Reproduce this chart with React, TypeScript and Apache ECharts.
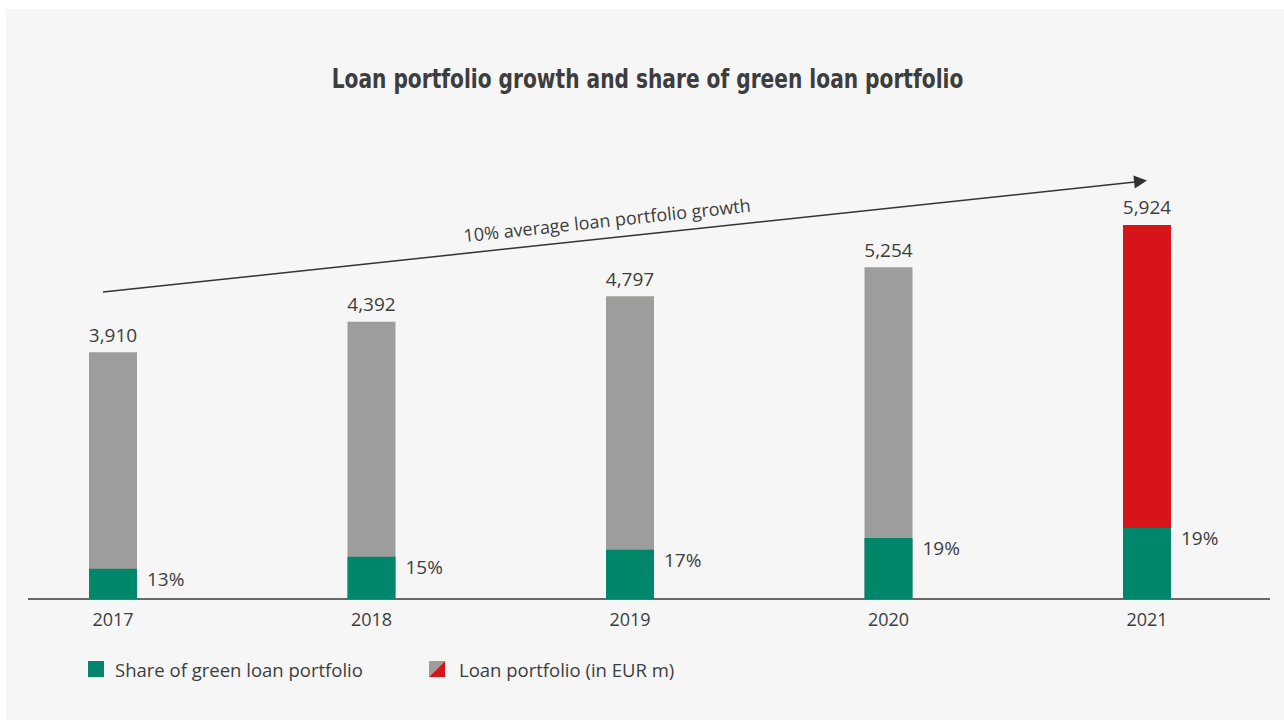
import React, { useEffect, useRef } from "react";
import * as echarts from "echarts";

const years = ["2017", "2018", "2019", "2020", "2021"];
const loanPortfolio = [3910, 4392, 4797, 5254, 5924];
const greenLoan = [478, 668, 780, 965, 1127];
const greenShare = [13, 15, 17, 19, 19];
const growthText = "10% average loan portfolio growth";
const titleText = "Loan portfolio growth and share of green loan portfolio";
const legendGreen = "Share of green loan portfolio";
const legendLoan = "Loan portfolio (in EUR m)";

const GRAY = "#9d9d9b";
const GREEN = "#00866a";
const RED = "#d71419";
const TEXT = "#3d3d3d";
const BG = "#f6f6f6";
const FONT = "'Open Sans', 'Noto Sans', sans-serif";

export default function App() {
  const ref = useRef<HTMLDivElement>(null);
  useEffect(() => {
    if (!ref.current) return;
    const chart = echarts.init(ref.current, undefined, { renderer: "svg" });
    const angle = Math.atan2(292 - 181, 1147 - 103);
    chart.setOption({
      animation: false,
      backgroundColor: BG,
      textStyle: { fontFamily: FONT },
      grid: { left: 107, width: 1034, top: 211.2, height: 378.8 },
      xAxis: {
        type: "category",
        data: years,
        boundaryGap: false,
        axisLine: { show: false },
        axisTick: { show: false },
        axisLabel: { color: TEXT, fontSize: 18, margin: 11, fontFamily: FONT },
      },
      yAxis: {
        type: "value",
        min: 0,
        max: 6000,
        show: false,
        splitLine: { show: false },
      },
      series: [
        {
          name: legendLoan,
          type: "bar",
          barWidth: 48,
          barGap: "-100%",
          data: loanPortfolio.map((v, i) => ({
            value: v,
            itemStyle: { color: i === loanPortfolio.length - 1 ? RED : GRAY },
          })),
          label: {
            show: true,
            position: "top",
            distance: 8,
            color: TEXT,
            fontSize: 19,
            fontFamily: FONT,
            formatter: (p: any) => p.value.toLocaleString("en-US"),
          },
        },
        {
          name: legendGreen,
          type: "bar",
          barWidth: 48,
          barGap: "-100%",
          itemStyle: { color: GREEN },
          data: greenLoan,
          label: {
            show: true,
            position: [58, 10],
            align: "left",
            verticalAlign: "middle",
            color: TEXT,
            fontSize: 19,
            fontFamily: FONT,
            formatter: (p: any) => greenShare[p.dataIndex] + "%",
          },
        },
      ],
      graphic: [
        {
          type: "text",
          x: 641.5,
          y: 70,
          scaleX: 0.863,
          style: {
            text: titleText,
            fill: TEXT,
            font: "bold 26px 'DejaVu Sans Condensed', 'DejaVu Sans', sans-serif",
            align: "center",
            verticalAlign: "middle",
          },
        },
        {
          type: "line",
          shape: { x1: 22, y1: 590, x2: 1264, y2: 590 },
          style: { stroke: "#3a3a3a", lineWidth: 1.5 },
        },
        {
          type: "line",
          shape: { x1: 97, y1: 283, x2: 1129, y2: 173 },
          style: { stroke: "#333", lineWidth: 1.5 },
        },
        {
          type: "polygon",
          shape: {
            points: [
              [1141, 171.5],
              [1128.8, 179.4],
              [1127.4, 166.4],
            ],
          },
          style: { fill: "#333" },
        },
        {
          type: "text",
          x: 601,
          y: 211,
          rotation: angle,
          style: {
            text: growthText,
            fill: TEXT,
            font: "18px 'Open Sans', sans-serif",
            align: "center",
            verticalAlign: "middle",
          },
        },
        {
          type: "rect",
          shape: { x: 82, y: 652, width: 16, height: 16 },
          style: { fill: GREEN },
        },
        {
          type: "text",
          x: 109,
          y: 660,
          style: {
            text: legendGreen,
            fill: TEXT,
            font: "18.5px 'Open Sans', sans-serif",
            verticalAlign: "middle",
          },
        },
        {
          type: "polygon",
          shape: { points: [[423, 652], [439, 652], [423, 668]] },
          style: { fill: GRAY },
        },
        {
          type: "polygon",
          shape: { points: [[439, 652], [439, 668], [423, 668]] },
          style: { fill: RED },
        },
        {
          type: "text",
          x: 453,
          y: 660,
          style: {
            text: legendLoan,
            fill: TEXT,
            font: "18.5px 'Open Sans', sans-serif",
            verticalAlign: "middle",
          },
        },
      ],
    });
    return () => chart.dispose();
  }, []);
  return (
    <div
      ref={ref}
      style={{ position: "absolute", left: 6, top: 9, width: 1278, height: 711 }}
    />
  );
}
